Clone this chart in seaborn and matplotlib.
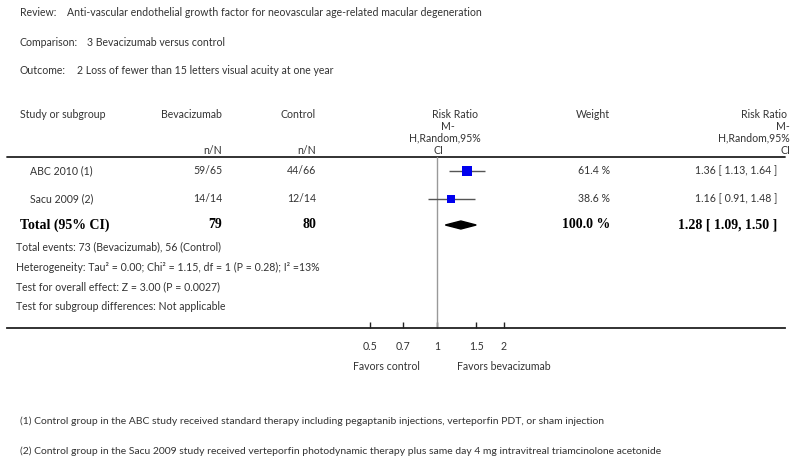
import numpy as np
import pandas as pd
import matplotlib
matplotlib.use("Agg")
import matplotlib.pyplot as plt
import seaborn as sns
from matplotlib.ticker import FixedLocator, NullLocator, FixedFormatter

# data
studies = ["ABC 2010 (1)", "Sacu 2009 (2)"]
bev_nN = ["59/65", "14/14"]
ctl_nN = ["44/66", "12/14"]
rr = [1.36, 1.16]
ci_low = [1.13, 0.91]
ci_high = [1.64, 1.48]
weights = [61.4, 38.6]
total_bev = 79
total_ctl = 80
total_rr = 1.28
total_low = 1.09
total_high = 1.50
ticks = [0.5, 0.7, 1, 1.5, 2]
tick_labels = ["0.5", "0.7", "1", "1.5", "2"]

sns.set_theme(style="white")
plt.rcParams["font.family"] = ["Lato", "DejaVu Sans"]

W, H = 800, 463
fig = plt.figure(figsize=(8, 4.63), dpi=100)
bg = fig.add_axes([0, 0, 1, 1])
bg.set_xlim(0, W)
bg.set_ylim(H, 0)
bg.axis("off")

txt = dict(fontsize=7.6, color="#333333", va="center")
bold = dict(fontsize=10, color="black", va="center", fontweight="bold",
            family="Liberation Serif")

bg.text(20, 13, "Review:", **txt)
bg.text(67, 13, "Anti-vascular endothelial growth factor for neovascular age-related macular degeneration", **txt)
bg.text(20, 42, "Comparison:", **txt)
bg.text(87, 42, "3 Bevacizumab versus control", **txt)
bg.text(20, 71, "Outcome:", **txt)
bg.text(77, 71, "2 Loss of fewer than 15 letters visual acuity at one year", **txt)

# header
bg.text(20, 114, "Study or subgroup", **txt)
bg.text(222, 114, "Bevacizumab", ha="right", **txt)
bg.text(316, 114, "Control", ha="right", **txt)
bg.text(222, 151, "n/N", ha="right", **txt)
bg.text(316, 151, "n/N", ha="right", **txt)
for i, s in enumerate(["Risk Ratio", "M-", "H,Random,95%", "CI"]):
    bg.text([455, 448, 445, 438][i], 114 + 12 * i, s, ha="center", **txt)
bg.text(610, 114, "Weight", ha="right", **txt)
for i, s in enumerate(["Risk Ratio ", "M-", "H,Random,95%", "CI"]):
    bg.text(790, 114 + 12 * i, s, ha="right", **txt)
bg.plot([7, 785], [157, 157], color="#222222", lw=1.3)

row_y = [171, 199]
for i in range(len(studies)):
    y = row_y[i]
    bg.text(30, y, studies[i], **txt)
    bg.text(222, y, bev_nN[i], ha="right", **txt)
    bg.text(316, y, ctl_nN[i], ha="right", **txt)
    bg.text(610, y, f"{weights[i]:.1f} %", ha="right", **txt)
    bg.text(777, y, f"{rr[i]:.2f} [ {ci_low[i]:.2f}, {ci_high[i]:.2f} ]", ha="right", **txt)

ty = 225
bg.text(20, ty, "Total (95% CI)", **bold)
bg.text(222, ty, str(total_bev), ha="right", **bold)
bg.text(316, ty, str(total_ctl), ha="right", **bold)
bg.text(610, ty, f"{sum(weights):.1f} %", ha="right", **bold)
bg.text(777, ty, f"{total_rr:.2f} [ {total_low:.2f}, {total_high:.2f} ]", ha="right", **bold)

bg.text(16, 247, "Total events: 73 (Bevacizumab), 56 (Control)", **txt)
bg.text(16, 267, "Heterogeneity: Tau² = 0.00; Chi² = 1.15, df = 1 (P = 0.28); I² =13%", **txt)
bg.text(16, 287, "Test for overall effect: Z = 3.00 (P = 0.0027)", **txt)
bg.text(16, 306, "Test for subgroup differences: Not applicable", **txt)

bg.text(420, 366, "Favors control", ha="right", **txt)
bg.text(457, 366, "Favors bevacizumab", ha="left", **txt)

foot = dict(fontsize=7.5, color="#333333", va="center")
bg.text(20, 421, "(1) Control group in the ABC study received standard therapy including pegaptanib injections, verteporfin PDT, or sham injection", **foot)
bg.text(20, 451, "(2) Control group in the Sacu 2009 study received verteporfin photodynamic therapy plus same day 4 mg intravitreal triamcinolone acetonide", **foot)

# forest axis (pixel layout)
x0, x1, y0, y1 = 7, 785, 157, 328
x_one, px_per_ln = 437, 96.7
ax = fig.add_axes([x0 / W, 1 - y1 / H, (x1 - x0) / W, (y1 - y0) / H])
ax.patch.set_alpha(0)
ax.set_xscale("log")
ax.set_xlim(np.exp((x0 - x_one) / px_per_ln), np.exp((x1 - x_one) / px_per_ln))
ax.set_ylim(y1, y0)

df = pd.DataFrame({"rr": rr, "row": row_y, "w": weights})
ax.hlines(row_y, ci_low, ci_high, color="#555555", lw=1)
sns.scatterplot(data=df, x="rr", y="row", size="w", sizes=(34, 56), marker="s",
                color="#0000ee", edgecolor="none", legend=False, ax=ax, zorder=3)
ax.fill([total_low, total_rr, total_high, total_rr], [ty, ty - 4, ty, ty + 4],
        color="black", zorder=3)
ax.axvline(1, color="#999999", lw=1, zorder=1)

for s in ["top", "left", "right"]:
    ax.spines[s].set_visible(False)
ax.spines["bottom"].set_color("#222222")
ax.spines["bottom"].set_linewidth(1.3)
ax.xaxis.set_major_locator(FixedLocator(ticks))
ax.xaxis.set_major_formatter(FixedFormatter(tick_labels))
ax.xaxis.set_minor_locator(NullLocator())
ax.tick_params(axis="x", direction="in", length=4, width=1, color="#222222",
               pad=9, labelsize=7.6, labelcolor="#333333", bottom=True)
ax.set_yticks([])
ax.set_xlabel("")
ax.set_ylabel("")

fig.savefig("out.png", dpi=100)
